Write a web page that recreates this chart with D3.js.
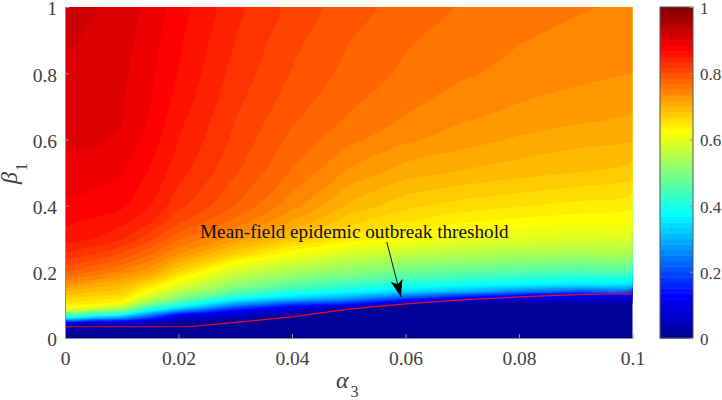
<!DOCTYPE html>
<html>
<head>
<meta charset="utf-8">
<script src="https://d3js.org/d3.v7.min.js"></script>
<style>
    html, body { margin: 0; padding: 0; background: #fff; }
    text { font-family: "Liberation Serif", serif; }
</style>
</head>
<body>
<svg id="chart" width="722" height="400"></svg>
<script>
// values
let alphaTicks = [0, 0.02, 0.04, 0.06, 0.08, 0.1];
let betaTicks = [0, 0.2, 0.4, 0.6, 0.8, 1];
let colorTicks = [0, 0.2, 0.4, 0.6, 0.8, 1];

let alphaGrid = [0, 0.005, 0.01, 0.015, 0.02, 0.03, 0.04, 0.05, 0.06, 0.07, 0.08, 0.09, 0.1];
let betaGrid = [0, 0.04, 0.05, 0.06, 0.07, 0.08, 0.09, 0.1, 0.11, 0.12, 0.13, 0.14, 0.16, 0.18, 0.2, 0.25, 0.3, 0.35, 0.4, 0.5, 0.6, 0.66, 0.7, 0.8, 0.9, 1];

// one row per beta, bottom to top
let rate000 = [0, 0, 0, 0, 0, 0, 0, 0, 0, 0, 0, 0, 0];
let rate004 = [.03, .03, .03, .02, .01, 0, 0, 0, 0, 0, 0, 0, 0];
let rate005 = [.13, .13, .12, .07, .03, .01, 0, 0, 0, 0, 0, 0, 0];
let rate006 = [.34, .30, .26, .17, .07, .04, 0, 0, 0, 0, 0, 0, 0];
let rate007 = [.44, .42, .375, .26, .125, .07, .02, 0, 0, 0, 0, 0, 0];
let rate008 = [.53, .51, .47, .345, .24, .11, .05, 0, 0, 0, 0, 0, 0];
let rate009 = [.60, .58, .54, .42, .345, .18, .09, .02, 0, 0, 0, 0, 0];
let rate010 = [.64, .63, .59, .48, .41, .26, .16, .12, .02, 0, 0, 0, 0];
let rate011 = [.655, .645, .635, .53, .46, .33, .25, .21, .10, .055, .05, .05, .05];
let rate012 = [.67, .66, .65, .57, .50, .39, .33, .28, .19, .11, .09, .08, .07];
let rate013 = [.68, .67, .665, .595, .53, .43, .375, .33, .27, .20, .14, .115, .10];
let rate014 = [.70, .685, .675, .615, .56, .47, .41, .375, .335, .30, .25, .20, .17];
let rate016 = [.725, .71, .695, .655, .60, .515, .465, .43, .40, .38, .365, .35, .33];
let rate018 = [.755, .74, .72, .69, .635, .55, .505, .475, .45, .43, .415, .40, .39];
let rate020 = [.78, .765, .745, .72, .665, .58, .54, .51, .485, .47, .46, .45, .44];
let rate025 = [.825, .815, .795, .765, .73, .665, .615, .58, .56, .55, .54, .535, .53];
let rate030 = [.857, .85, .835, .805, .77, .725, .68, .645, .625, .605, .597, .59, .585];
let rate035 = [.87, .863, .855, .835, .803, .76, .715, .672, .65, .635, .627, .622, .62];
let rate040 = [.88, .877, .87, .851, .822, .783, .74, .697, .672, .66, .652, .645, .637];
let rate050 = [.893, .89, .885, .8645, .84, .802, .765, .73, .708, .698, .69, .6833, .674];
let rate060 = [.903, .9035, .8975, .876, .85, .8125, .7785, .755, .737, .7245, .7145, .7065, .7015];
let rate066 = [.905, .904, .901, .881, .855, .8167, .786, .7645, .748, .735, .7265, .72, .7146];
let rate070 = [.907, .905, .9015, .8835, .859, .82, .79, .769, .753, .741, .732, .725, .7185];
let rate080 = [.91, .908, .904, .887, .866, .827, .799, .778, .763, .7525, .745, .739, .7333];
let rate090 = [.92, .913, .907, .891, .87, .833, .805, .784, .769, .758, .751, .745, .74];
let rate100 = [.925, .918, .909, .8937, .8725, .8375, .811, .79, .776, .765, .7585, .752, .7466];

let rateRows = [rate000, rate004, rate005, rate006, rate007, rate008, rate009, rate010, rate011, rate012,
    rate013, rate014, rate016, rate018, rate020, rate025, rate030, rate035, rate040, rate050, rate060,
    rate066, rate070, rate080, rate090, rate100];

// the red threshold curve
let thresholdAlpha = [0, 0.022, 0.03, 0.04, 0.05, 0.06, 0.07, 0.08, 0.09, 0.1];
let thresholdBeta = [0.034, 0.034, 0.047, 0.064, 0.087, 0.103, 0.115, 0.124, 0.131, 0.134];

let annotationText = "Mean-field epidemic outbreak threshold";

let levelCount = 60;
let levels = d3.range(levelCount).map(function (k) { return k / levelCount; });

let margin = {top: 7, right: 89.5, bottom: 62, left: 65},
    width = 722 - margin.left - margin.right,
    height = 400 - margin.top - margin.bottom;

let axisColor = "#8c8c8c";
let labelColor = "#404040";

// jet colormap
let jet = d3.scaleLinear()
    .domain([0, 0.125, 0.375, 0.625, 0.875, 1])
    .range(["#00008f", "#0000ff", "#00ffff", "#ffff00", "#ff0000", "#800000"]);

function bandColor(level) {
    return jet(level + 0.5 / levelCount);
}

let svg = d3.select("#chart");
let defs = svg.append("defs");
let plot = svg.append("g")
    .attr("transform", "translate(" + margin.left + "," + margin.top + ")");

defs.append("clipPath")
    .attr("id", "plotClip")
    .append("rect")
    .attr("width", width)
    .attr("height", height);

let x = d3.scaleLinear().domain([0, 0.1]).range([0, width]);
let y = d3.scaleLinear().domain([0, 1]).range([height, 0]);

// grid index -> data value, the grid is not uniform
let alphaOfIndex = d3.scaleLinear().domain(d3.range(alphaGrid.length)).range(alphaGrid).clamp(true);
let betaOfIndex = d3.scaleLinear().domain(d3.range(betaGrid.length)).range(betaGrid).clamp(true);

function project(ring) {
    return ring.slice(0, -1).map(function (p) {
        return [x(alphaOfIndex(p[0] - 0.5)), y(betaOfIndex(p[1] - 0.5))];
    });
}

// the grid is coarse, so round off the kinks in the contour rings
let ringPath = d3.line().curve(d3.curveCatmullRomClosed.alpha(0.5));

function contourPath(geometry) {
    let d = "";
    geometry.coordinates.forEach(function (polygon) {
        polygon.forEach(function (ring) {
            d += ringPath(project(ring));
        });
    });
    return d;
}

plot.append("rect")
    .attr("width", width)
    .attr("height", height)
    .attr("fill", bandColor(0));

let contours = d3.contours()
    .size([alphaGrid.length, betaGrid.length])
    .thresholds(levels.slice(1))(rateRows.flat());

plot.append("g")
    .attr("clip-path", "url(#plotClip)")
    .selectAll("path")
    .data(contours)
    .enter().append("path")
    .attr("d", contourPath)
    .attr("fill-rule", "evenodd")
    .attr("fill", function (d) { return bandColor(d.value); });

// threshold line
let thresholdLine = d3.line()
    .x(function (d) { return x(d); })
    .y(function (d, i) { return y(thresholdBeta[i]); });

plot.append("path")
    .attr("d", thresholdLine(thresholdAlpha))
    .attr("fill", "none")
    .attr("stroke", "#e0102a")
    .attr("stroke-width", 1.2);

// axes
function styleAxis(g) {
    g.selectAll("path, line").attr("stroke", axisColor);
    g.selectAll("text")
        .attr("fill", labelColor)
        .style("font-size", "19.5px");
}

plot.append("g")
    .attr("transform", "translate(0," + height + ")")
    .call(d3.axisBottom(x).tickValues(alphaTicks).tickSize(-4).tickSizeOuter(0).tickPadding(13)
        .tickFormat(function (d) { return String(d); }))
    .call(styleAxis);

plot.append("g")
    .call(d3.axisLeft(y).tickValues(betaTicks).tickSize(-4).tickSizeOuter(0).tickPadding(8)
        .tickFormat(function (d) { return String(d); }))
    .call(styleAxis)
    .call(function (g) { g.selectAll("text").attr("dy", "0.4em"); });

// axis labels
let xLabel = svg.append("text")
    .attr("x", 336)
    .attr("y", 388)
    .attr("fill", labelColor);
xLabel.append("tspan").style("font-size", "24px").style("font-style", "italic").text("α");
xLabel.append("tspan").style("font-size", "16px").attr("dy", 9).attr("dx", 2).text("3");

let yLabel = svg.append("text")
    .attr("transform", "translate(17,184) rotate(-90)")
    .attr("fill", labelColor);
yLabel.append("tspan").style("font-size", "24px").style("font-style", "italic").text("β");
yLabel.append("tspan").style("font-size", "16px").attr("dy", 10).attr("dx", 1).text("1");

// annotation
plot.append("text")
    .attr("x", x(0.0238))
    .attr("y", y(0.302))
    .attr("fill", "#111")
    .style("font-size", "19.2px")
    .text(annotationText);

defs.append("marker")
    .attr("id", "arrowHead")
    .attr("viewBox", "0 0 17 12")
    .attr("refX", 17)
    .attr("refY", 6)
    .attr("markerUnits", "userSpaceOnUse")
    .attr("markerWidth", 17)
    .attr("markerHeight", 12)
    .attr("orient", "auto")
    .append("path")
    .attr("d", "M0,0L17,6L0,12L4,6Z")
    .attr("fill", "#000");

plot.append("line")
    .attr("x1", x(0.0567))
    .attr("y1", y(0.29))
    .attr("x2", x(0.0592))
    .attr("y2", y(0.124))
    .attr("stroke", "#111")
    .attr("stroke-width", 1)
    .attr("marker-end", "url(#arrowHead)");

// colorbar
let barLeft = 660, barWidth = 33;
let barY = d3.scaleLinear().domain([0, 1]).range([margin.top + height, margin.top]);

let bar = svg.append("g");
bar.selectAll("rect")
    .data(levels)
    .enter().append("rect")
    .attr("x", barLeft)
    .attr("width", barWidth)
    .attr("y", function (d) { return barY(d + 1 / levelCount); })
    .attr("height", function (d) { return barY(d) - barY(d + 1 / levelCount) + 0.5; })
    .attr("fill", bandColor);

bar.append("rect")
    .attr("x", barLeft)
    .attr("y", margin.top)
    .attr("width", barWidth)
    .attr("height", height)
    .attr("fill", "none")
    .attr("stroke", "#555")
    .attr("stroke-width", 1);

svg.append("g")
    .attr("transform", "translate(" + (barLeft + barWidth) + ",0)")
    .call(d3.axisRight(barY).tickValues(colorTicks).tickSize(-3).tickSizeOuter(0).tickPadding(7)
        .tickFormat(function (d) { return String(d); }))
    .call(styleAxis)
    .call(function (g) {
        g.select(".domain").remove();
        g.selectAll("text").attr("dy", "0.38em").style("font-size", "17px");
    });
</script>
</body>
</html>
